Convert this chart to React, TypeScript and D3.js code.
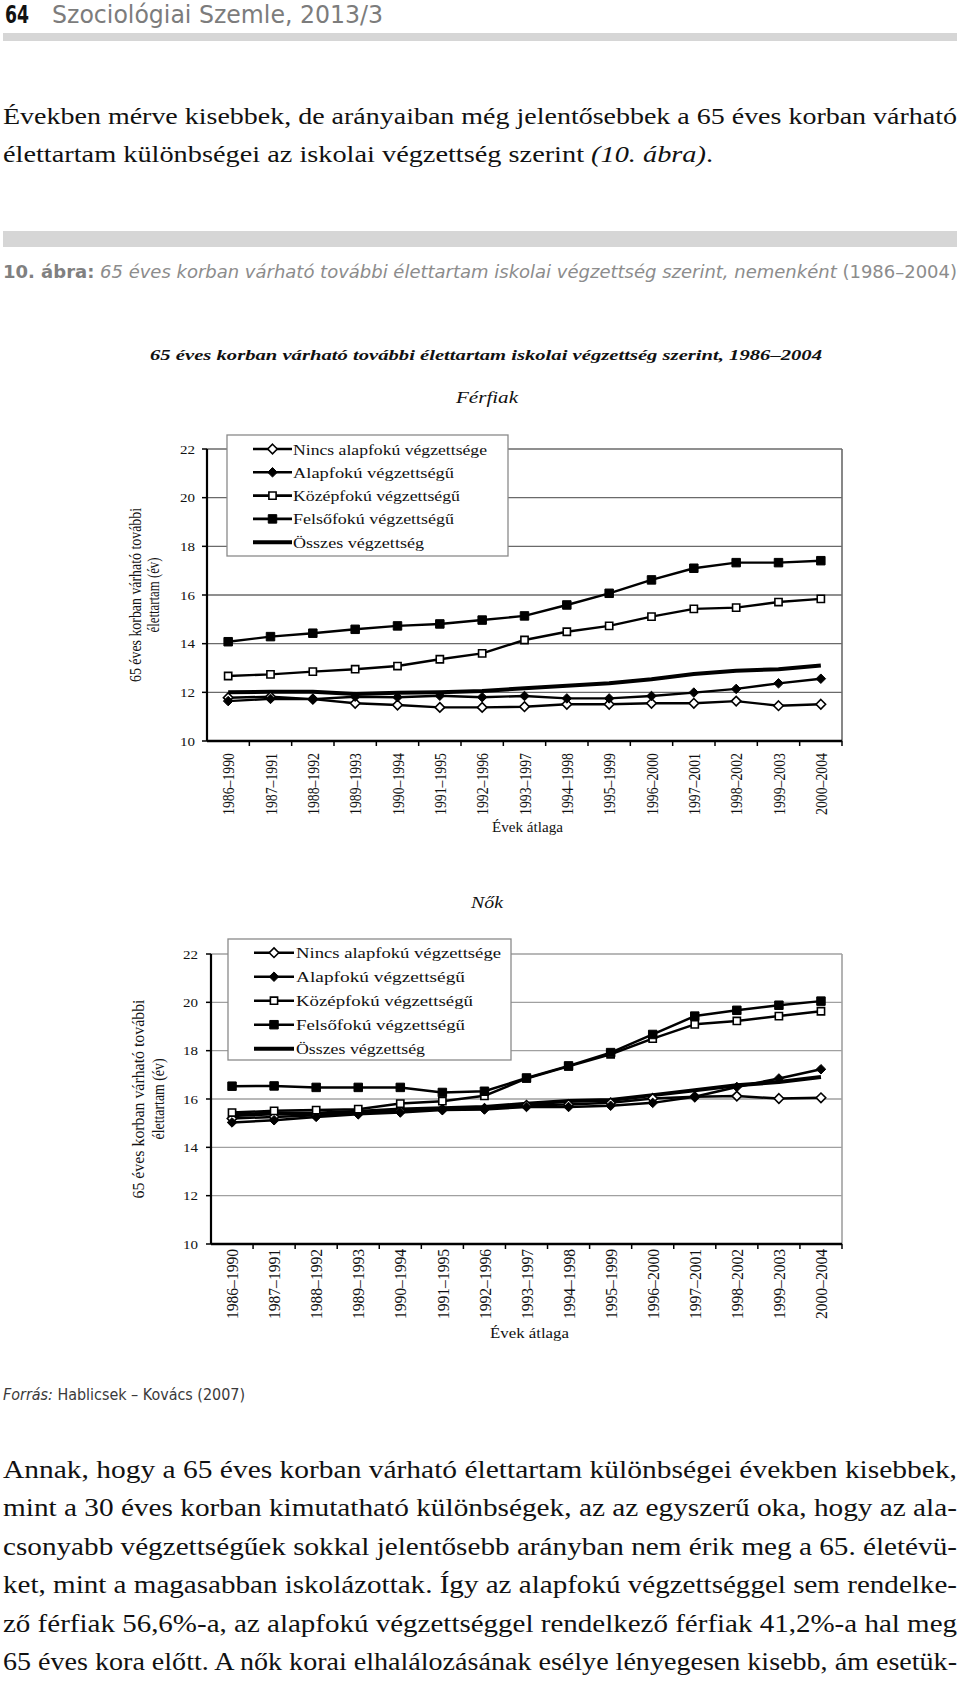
import React from 'react';
import * as d3 from 'd3';

// Évek átlaga (kategóriák)
const periods = [
  '1986–1990', '1987–1991', '1988–1992', '1989–1993', '1990–1994',
  '1991–1995', '1992–1996', '1993–1997', '1994–1998', '1995–1999',
  '1996–2000', '1997–2001', '1998–2002', '1999–2003', '2000–2004',
];
const seriesNames = [
  'Nincs alapfokú végzettsége',
  'Alapfokú végzettségű',
  'Középfokú végzettségű',
  'Felsőfokú végzettségű',
  'Összes végzettség',
];
const yTicks = [10, 12, 14, 16, 18, 20, 22];

// Férfiak
const ferfiNincs = [11.78, 11.82, 11.72, 11.55, 11.48, 11.38, 11.38, 11.41, 11.51, 11.51, 11.55, 11.55, 11.64, 11.45, 11.51];
const ferfiAlap = [11.64, 11.73, 11.72, 11.82, 11.8, 11.86, 11.8, 11.85, 11.75, 11.75, 11.85, 11.99, 12.14, 12.37, 12.56];
const ferfiKozep = [12.67, 12.74, 12.85, 12.95, 13.08, 13.36, 13.6, 14.15, 14.49, 14.73, 15.11, 15.43, 15.48, 15.71, 15.84];
const ferfiFelso = [14.08, 14.29, 14.43, 14.59, 14.73, 14.81, 14.97, 15.14, 15.59, 16.07, 16.62, 17.1, 17.33, 17.33, 17.41];
const ferfiOsszes = [12.0, 12.02, 12.02, 11.93, 11.98, 12.0, 12.05, 12.17, 12.27, 12.37, 12.54, 12.75, 12.89, 12.95, 13.1];

// Nők
const noNincs = [15.19, 15.26, 15.33, 15.4, 15.51, 15.57, 15.6, 15.74, 15.77, 15.84, 16.02, 16.09, 16.12, 16.02, 16.05];
const noAlap = [15.03, 15.12, 15.26, 15.37, 15.44, 15.54, 15.57, 15.67, 15.67, 15.72, 15.84, 16.09, 16.5, 16.85, 17.23];
const noKozep = [15.44, 15.51, 15.54, 15.58, 15.81, 15.91, 16.13, 16.85, 17.35, 17.85, 18.5, 19.09, 19.23, 19.43, 19.63];
const noFelso = [16.53, 16.54, 16.48, 16.48, 16.48, 16.27, 16.32, 16.87, 17.37, 17.92, 18.67, 19.43, 19.67, 19.88, 20.05];
const noOsszes = [15.33, 15.4, 15.4, 15.47, 15.57, 15.62, 15.67, 15.8, 15.92, 15.96, 16.16, 16.36, 16.57, 16.7, 16.91];

const markerTypes = ['openDiamond', 'diamond', 'openSquare', 'square', 'none'];

const serif = "'Liberation Serif', 'Times New Roman', serif";
const narrow = "'Liberation Sans Narrow', 'DejaVu Sans Condensed', 'Liberation Sans', sans-serif";

const panels = [
  {
    name: 'Férfiak', nameY: 403, nameW: 62,
    series: [ferfiNincs, ferfiAlap, ferfiKozep, ferfiFelso, ferfiOsszes],
    x0: 207, x1: 842, yTop: 449, yBottom: 741,
    grid: '#6a6a6a', lineW: 2.4, totalW: 4,
    legend: { x: 227, y: 435, w: 281, h: 121, row0: 449, step: 23.3, lx0: 253, lx1: 292, tx: 293, widths: [194, 161, 167, 161, 131] },
    tickRight: 195, labelTop: 753, labelLen: 62,
    axisTitleX: [135, 153], axisTitleLen: [174, 75],
    xTitleY: 832, xTitleW: 71,
  },
  {
    name: 'Nők', nameY: 908, nameW: 32,
    series: [noNincs, noAlap, noKozep, noFelso, noOsszes],
    x0: 211, x1: 842, yTop: 954, yBottom: 1244,
    grid: '#a0a0a0', lineW: 2.5, totalW: 4,
    legend: { x: 228, y: 939, w: 283, h: 121, row0: 952.7, step: 24, lx0: 254, lx1: 294, tx: 296, widths: [205, 169, 177, 169, 129] },
    tickRight: 198, labelTop: 1249, labelLen: 70,
    axisTitleX: [138, 158], axisTitleLen: [199, 81],
    xTitleY: 1338, xTitleW: 79,
  },
];

const diamondType = (d3 as any).symbolDiamond2 || d3.symbolDiamond;

const Marker = ({ type, x, y }: { type: string; x: number; y: number }) => {
  if (type === 'none') return null;
  const isDiamond = type.toLowerCase().includes('diamond');
  const open = type.startsWith('open');
  const size = isDiamond ? 58 : (open ? 52 : 72);
  const path = d3.symbol().type(isDiamond ? diamondType : d3.symbolSquare).size(size)();
  return (
    <path d={path || ''} transform={`translate(${x},${y})`}
      fill={open ? '#fff' : '#000'} stroke="#000" strokeWidth={open ? 1.6 : 1} />
  );
};

const Chart = ({ p }: { p: any }) => {
  const x = d3.scaleBand<string>().domain(periods).range([p.x0, p.x1]).padding(0);
  const y = d3.scaleLinear().domain([10, 22]).range([p.yBottom, p.yTop]);
  const cx = (i: number) => (x(periods[i]) as number) + x.bandwidth() / 2;
  const line = d3.line<number>().x((_, i) => cx(i)).y((v) => y(v));
  const order = [4, 0, 1, 2, 3];
  const L = p.legend;
  const midY = (p.yTop + p.yBottom) / 2;
  const midX = (p.x0 + p.x1) / 2;

  return (
    <g>
      {/* gridlines */}
      {yTicks.filter((t) => t > 10).map((t) => (
        <line key={t} x1={p.x0} x2={p.x1} y1={y(t)} y2={y(t)} stroke={p.grid} strokeWidth={1.4} />
      ))}
      <line x1={p.x1} x2={p.x1} y1={y(22)} y2={y(10)} stroke={p.grid} strokeWidth={1.6} />

      {/* y axis */}
      <line x1={p.x0} x2={p.x0} y1={y(22)} y2={y(10)} stroke="#000" strokeWidth={2.2} />
      {yTicks.map((t) => (
        <g key={t}>
          <line x1={p.x0 - 5} x2={p.x0} y1={y(t)} y2={y(t)} stroke="#000" strokeWidth={1.5} />
          <text x={p.tickRight} y={y(t)} textAnchor="end" dominantBaseline="central"
            fontFamily={serif} fontSize={13.5} textLength={15} lengthAdjust="spacingAndGlyphs" fill="#111">{t}</text>
        </g>
      ))}

      {/* x axis */}
      <line x1={p.x0} x2={p.x1} y1={y(10)} y2={y(10)} stroke="#000" strokeWidth={2.4} />
      {periods.map((d, i) => (
        <g key={d}>
          <line x1={(x(d) as number) + x.bandwidth()} x2={(x(d) as number) + x.bandwidth()} y1={y(10)} y2={y(10) + 5} stroke="#000" strokeWidth={1.5} />
          <text transform={`translate(${cx(i)},${p.labelTop}) scale(1.3,1) rotate(-90)`} textAnchor="end" dominantBaseline="central"
            fontFamily={serif} fontSize={13.5} textLength={p.labelLen} lengthAdjust="spacingAndGlyphs" fill="#111">{d}</text>
        </g>
      ))}
      <text x={midX + 3} y={p.xTitleY} textAnchor="middle" fontFamily={serif} fontSize={14.5}
        textLength={p.xTitleW} lengthAdjust="spacingAndGlyphs" fill="#111">Évek átlaga</text>

      {/* y axis title */}
      <text transform={`translate(${p.axisTitleX[0]},${midY}) scale(1.25,1) rotate(-90)`} textAnchor="middle" dominantBaseline="central"
        fontFamily={serif} fontSize={14} textLength={p.axisTitleLen[0]} lengthAdjust="spacingAndGlyphs" fill="#111">65 éves korban várható további</text>
      <text transform={`translate(${p.axisTitleX[1]},${midY}) scale(1.25,1) rotate(-90)`} textAnchor="middle" dominantBaseline="central"
        fontFamily={serif} fontSize={14} textLength={p.axisTitleLen[1]} lengthAdjust="spacingAndGlyphs" fill="#111">élettartam (év)</text>

      {/* series */}
      {order.map((k) => (
        <path key={k} d={line(p.series[k]) || ''} fill="none" stroke="#000"
          strokeWidth={k === 4 ? p.totalW : p.lineW} strokeLinejoin="round" />
      ))}
      {order.map((k) => p.series[k].map((v: number, i: number) => (
        <Marker key={`${k}-${i}`} type={markerTypes[k]} x={cx(i)} y={y(v)} />
      )))}

      {/* legend */}
      <rect x={L.x} y={L.y} width={L.w} height={L.h} fill="#fff" stroke="#8a8a8a" strokeWidth={1.3} />
      {seriesNames.map((s, k) => {
        const ry = L.row0 + k * L.step;
        return (
          <g key={s}>
            <line x1={L.lx0} x2={L.lx1} y1={ry} y2={ry} stroke="#000" strokeWidth={k === 4 ? p.totalW : 2.6} />
            <Marker type={markerTypes[k]} x={(L.lx0 + L.lx1) / 2} y={ry} />
            <text x={L.tx} y={ry + 1} dominantBaseline="central" fontFamily={serif} fontSize={14}
              textLength={L.widths[k]} lengthAdjust="spacingAndGlyphs" fill="#111">{s}</text>
          </g>
        );
      })}

      {/* panel name */}
      <text x={487} y={p.nameY} textAnchor="middle" fontFamily={serif} fontStyle="italic" fontSize={16.5}
        textLength={p.nameW} lengthAdjust="spacingAndGlyphs" fill="#111">{p.name}</text>
    </g>
  );
};

const para1 = [
  'Években mérve kisebbek, de arányaiban még jelentősebbek a 65 éves korban várható',
];
const para2 = [
  'Annak, hogy a 65 éves korban várható élettartam különbségei években kisebbek,',
  'mint a 30 éves korban kimutatható különbségek, az az egyszerű oka, hogy az ala-',
  'csonyabb végzettségűek sokkal jelentősebb arányban nem érik meg a 65. életévü-',
  'ket, mint a magasabban iskolázottak. Így az alapfokú végzettséggel sem rendelke-',
  'ző férfiak 56,6%-a, az alapfokú végzettséggel rendelkező férfiak 41,2%-a hal meg',
  '65 éves kora előtt. A nők korai elhalálozásának esélye lényegesen kisebb, ám esetük-',
];

export default function App() {
  return (
    <svg width={960} height={1681} viewBox="0 0 960 1681"
      style={{ position: 'absolute', left: 0, top: 0, background: '#fff' }}>
      <rect x={0} y={0} width={960} height={1681} fill="#fff" />

      {/* header */}
      <text x={5} y={23} fontFamily={narrow} fontWeight="bold" fontSize={25} textLength={24}
        lengthAdjust="spacingAndGlyphs" fill="#111">64</text>
      <text x={52} y={23} fontFamily={narrow} fontSize={24} textLength={331}
        lengthAdjust="spacingAndGlyphs" fill="#7c7c7c">Szociológiai Szemle, 2013/3</text>
      <rect x={3} y={33} width={954} height={8} fill="#d6d6d6" />

      {/* intro paragraph */}
      {para1.map((t, i) => (
        <text key={t} x={3} y={124 + i * 38} fontFamily={serif} fontSize={24} textLength={954}
          lengthAdjust="spacingAndGlyphs" fill="#111">{t}</text>
      ))}
      <text x={3} y={162} fontFamily={serif} fontSize={24} textLength={710} lengthAdjust="spacingAndGlyphs" fill="#111">
        élettartam különbségei az iskolai végzettség szerint <tspan fontStyle="italic">(10. ábra)</tspan>.
      </text>

      <rect x={3} y={231} width={954} height={16} fill="#d6d6d6" />
      <text x={3} y={278} fontFamily={narrow} fontSize={17.5} textLength={954} lengthAdjust="spacingAndGlyphs" fill="#8c8c8c">
        <tspan fontWeight="bold" fill="#808080">10. ábra:</tspan>
        <tspan fontStyle="italic"> 65 éves korban várható további élettartam iskolai végzettség szerint, nemenként </tspan>
        <tspan>(1986–2004)</tspan>
      </text>

      {/* chart */}
      <text x={486} y={360} textAnchor="middle" fontFamily={serif} fontStyle="italic" fontWeight="bold" fontSize={15.5}
        textLength={672} lengthAdjust="spacingAndGlyphs" fill="#111">
        65 éves korban várható további élettartam iskolai végzettség szerint, 1986–2004
      </text>
      {panels.map((p) => <Chart key={p.name} p={p} />)}

      {/* source */}
      <text x={3} y={1400} fontFamily={narrow} fontSize={15.5} textLength={242} lengthAdjust="spacingAndGlyphs" fill="#3a3a3a">
        <tspan fontStyle="italic">Forrás:</tspan> Hablicsek – Kovács (2007)
      </text>

      {/* body paragraph */}
      {para2.map((t, i) => (
        <text key={t} x={3} y={1478 + i * 38.4} fontFamily={serif} fontSize={25} textLength={954}
          lengthAdjust="spacingAndGlyphs" fill="#111">{t}</text>
      ))}
    </svg>
  );
}
